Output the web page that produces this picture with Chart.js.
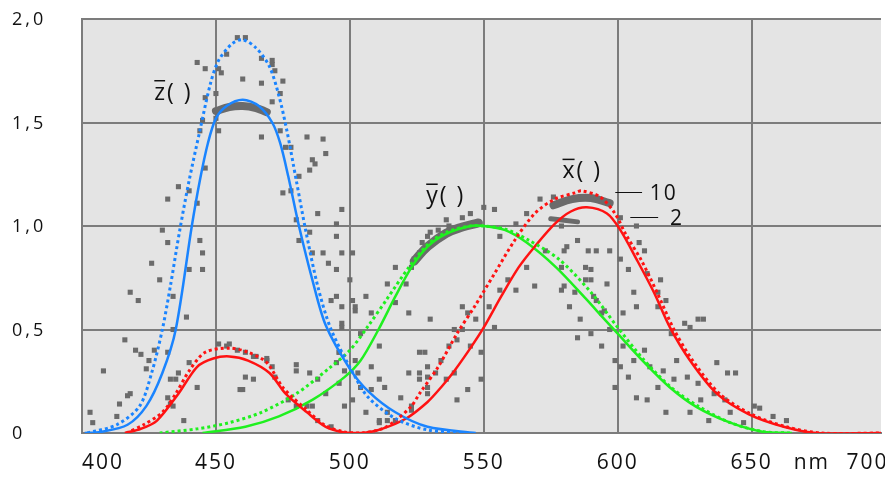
<!DOCTYPE html>
<html>
<head>
<meta charset="utf-8">
<script src="https://cdn.jsdelivr.net/npm/chart.js@4.4.1/dist/chart.umd.min.js"></script>
<style>
  html, body { margin: 0; padding: 0; background: #fff; }
  #wrap { width: 885px; height: 477px; }
</style>
</head>
<body>
<div id="wrap"><canvas id="cmf" width="885" height="477"></canvas></div>
<script>
// axis ticks
const xTicks = [400, 450, 500, 550, 600, 650];
const yTicks = [0, 0.5, 1, 1.5, 2];
const yLabels = ['0', '0,5', '1,0', '1,5', '2,0'];

// z-bar, 2 deg (solid) and 10 deg (dotted)
const z2Nm  = [401, 407, 417, 424, 430, 435, 441, 444, 447, 450, 454, 460, 466, 471, 474, 477, 481, 486, 491, 500, 507, 517, 529, 547];
const z2Val = [0, 0.005, 0.04, 0.13, 0.29, 0.5, 1.0, 1.22, 1.40, 1.52, 1.58, 1.61, 1.58, 1.50, 1.40, 1.24, 1.0, 0.74, 0.52, 0.31, 0.20, 0.10, 0.03, 0];
const z10Nm  = [402, 413, 421.5, 426, 430, 433, 436.5, 440, 444, 448, 451, 456, 460, 465, 470, 473.5, 476.5, 480, 483.5, 488, 493, 502, 507, 517, 529, 545];
const z10Val = [0, 0.04, 0.13, 0.29, 0.5, 0.71, 0.98, 1.22, 1.46, 1.69, 1.80, 1.88, 1.90, 1.86, 1.77, 1.63, 1.46, 1.22, 0.98, 0.71, 0.5, 0.27, 0.17, 0.07, 0.015, 0];

// y-bar
const y2Nm  = [445, 461, 473.5, 486, 498, 504, 510.7, 517, 523, 529, 535.6, 545, 550, 558, 566, 577, 588, 595, 600, 610, 619.5, 629.5, 642, 654.5, 665];
const y2Val = [0, 0.03, 0.08, 0.16, 0.27, 0.35, 0.50, 0.66, 0.80, 0.90, 0.96, 1.0, 1.0, 0.98, 0.92, 0.80, 0.65, 0.55, 0.48, 0.34, 0.22, 0.125, 0.05, 0.005, 0];
const y10Nm  = [429, 443, 455, 467, 480, 492, 500, 507, 514, 522, 529, 536, 545, 550, 558, 567, 578, 590, 600, 610, 620, 630, 642, 655, 665];
const y10Val = [0, 0.02, 0.05, 0.10, 0.19, 0.31, 0.40, 0.52, 0.65, 0.80, 0.91, 0.97, 1.0, 1.0, 0.985, 0.93, 0.84, 0.68, 0.51, 0.35, 0.22, 0.13, 0.05, 0.005, 0];

// x-bar
const x2Nm  = [416, 422, 428, 436, 443, 449, 455, 462, 470, 476, 484, 491, 498, 505, 512, 521, 529, 534, 539, 545, 550, 556.5, 563, 569, 576.5, 582.5, 588.5, 596, 601, 607, 613.5, 619.5, 627, 637, 649, 662, 674, 699];
const x2Val = [0, 0.02, 0.06, 0.19, 0.32, 0.36, 0.37, 0.35, 0.29, 0.19, 0.10, 0.03, 0.003, 0, 0.02, 0.07, 0.15, 0.22, 0.30, 0.41, 0.51, 0.66, 0.80, 0.90, 1.01, 1.07, 1.09, 1.06, 0.98, 0.84, 0.68, 0.51, 0.35, 0.19, 0.09, 0.03, 0, 0];
const x10Nm  = [416.5, 423, 430, 435, 440, 446, 455, 462, 469, 475, 484, 491, 498, 504, 512, 517, 523, 526, 533, 540, 547, 554, 561.5, 569, 576.5, 584, 586.5, 593.5, 599, 603, 609, 615, 621, 628, 638, 650, 663, 676, 699];
const x10Val = [0, 0.04, 0.10, 0.19, 0.30, 0.39, 0.41, 0.39, 0.34, 0.22, 0.11, 0.035, 0.005, 0, 0.02, 0.06, 0.13, 0.19, 0.32, 0.48, 0.62, 0.77, 0.93, 1.06, 1.13, 1.16, 1.17, 1.14, 1.06, 0.96, 0.83, 0.67, 0.50, 0.35, 0.19, 0.09, 0.03, 0, 0];

// grey speckle in the scan
const dotNm = [
  430, 432, 444, 445, 426, 418, 421, 429, 440, 445, 434, 439, 416, 420, 427, 425, 432, 408, 414, 418,
  404, 403, 435, 433, 443, 438, 422, 424, 434, 417, 413, 410, 426, 432, 436, 440, 443, 446, 443, 446,
  451, 452, 454, 458, 461, 467, 471, 471, 472, 475, 474, 471, 467, 460, 450, 446, 451, 450, 445, 444,
  451, 467, 474, 476, 478, 484, 490, 491, 486, 487, 485, 481, 478, 475, 480, 488, 495,
  481, 485, 486, 490, 492, 495, 497, 493, 497, 501, 502, 497, 496, 495, 498, 503, 504, 496, 501, 506,
  511, 514, 517, 480, 485, 488, 486, 491, 498, 508, 513, 523, 526, 529, 536, 539, 540, 544, 545, 542,
  530, 522, 517, 514, 523, 526, 529, 533, 537,
  451, 454, 458, 461, 465, 469, 471, 472, 461, 464, 460, 480, 477, 480, 484, 488, 493,
  455, 464, 469, 459, 440, 436, 433, 432, 434,
  497, 495, 501, 500, 495, 502, 506, 508, 497, 504, 511, 502, 508, 496, 511, 517, 521, 524, 527, 530,
  536, 542, 545, 550, 554, 556, 562, 566, 571, 576, 528, 526, 529, 522, 526, 529, 519, 523, 514, 511,
  542, 544, 547, 552, 554, 556, 559, 562, 566, 569, 573, 579, 581, 588, 590, 584, 586, 591, 594, 585,
  579, 549, 549, 539, 540, 537, 534, 532, 529,
  579, 585, 580, 589, 592, 597, 590, 588, 596, 580, 582, 592, 595, 601, 604, 608, 607, 610, 611, 616,
  615, 606, 607, 602, 615, 618, 630, 625, 627, 632, 620, 610, 602, 606, 601, 612, 617, 622, 615, 621,
  626, 630, 637, 641, 644, 636, 640, 631, 627, 634, 642, 651, 653, 658, 663, 647, 607, 611, 618, 604,
  599, 590, 597, 594, 599, 601
];
const dotVal = [
  0.98, 0.92, 0.93, 0.87, 0.82, 0.68, 0.64, 0.74, 0.79, 0.79, 0.66, 0.56, 0.45, 0.40, 0.40, 0.35, 0.39, 0.30, 0.14, 0.19,
  0.05, 0.10, 0.26, 0.14, 0.22, 0.06, 0.38, 0.31, 0.50, 0.18, 0.08, -0.02, -0.02, 1.13, 1.19, 1.17, 1.11, 1.28, 1.79, 1.76,
  1.76, 1.74, 1.83, 1.91, 1.91, 1.81, 1.80, 1.78, 1.75, 1.70, 1.64, 1.60, 1.69, 1.71, 1.64, 1.62, 1.56, 1.52, 1.51, 1.46,
  1.46, 1.43, 1.46, 1.38, 1.38, 1.43, 1.42, 1.35, 1.32, 1.30, 1.27, 1.24, 1.17, 1.16, 1.03, 1.06, 1.01,
  0.93, 0.97, 0.87, 0.87, 0.82, 0.79, 0.87, 0.64, 0.61, 0.64, 0.59, 0.53, 0.39, 0.34, 0.30, 0.29, 0.22, 0.24, 0.16, 0.10,
  0.06, 0.10, 0.06, 0.33, 0.29, 0.26, 0.13, 0.19, 0.13, 0.21, 0.22, 0.13, 0.29, 0.27, 0.26, 0.29, 0.16, 0.21, 0.42, 0.50,
  0.55, 0.58, 0.63, 0.72, 0.80, 0.87, 0.95, 0.98, 1.00,
  0.43, 0.42, 0.40, 0.39, 0.37, 0.35, 0.32, 0.27, 0.27, 0.26, 0.21, 0.30, 0.16, 0.13, 0.13, 0.06, 0.03,
  0.43, 0.37, 0.36, 0.21, 0.34, 0.29, 0.26, 0.17, 0.13,
  1.08, 0.95, 0.87, 0.74, 0.66, 0.61, 0.66, 0.58, 0.51, 0.48, 0.42, 0.35, 0.32, 0.39, 0.26, 0.80, 0.72, 0.84, 0.92, 0.97,
  1.03, 1.04, 1.06, 1.09, 1.08, 0.95, 1.01, 1.06, 1.13, 1.14, 0.39, 0.39, 0.32, 0.29, 0.26, 0.22, 0.17, 0.11, 0.06, 0.05,
  0.61, 0.58, 0.55, 0.61, 0.51, 0.69, 0.74, 0.69, 0.80, 0.71, 0.88, 0.80, 0.90, 0.80, 0.74, 0.68, 0.55, 0.66, 0.58, 0.46,
  0.69, 0.26, 0.39, 0.50, 0.45, 0.42, 0.35, 0.29, 0.19,
  1.00, 0.93, 0.88, 0.88, 0.88, 0.88, 0.79, 0.74, 0.72, 0.71, 0.61, 0.64, 0.59, 0.84, 0.79, 0.92, 1.00, 0.88, 0.77, 0.74,
  0.68, 0.68, 0.61, 0.58, 0.61, 0.64, 0.55, 0.53, 0.51, 0.55, 0.48, 0.40, 0.42, 0.35, 0.32, 0.32, 0.30, 0.35, 0.22, 0.26,
  0.27, 0.24, 0.34, 0.29, 0.29, 0.19, 0.16, 0.16, 0.10, 0.06, 0.10, 0.13, 0.12, 0.08, 0.06, 0.05, 0.17, 0.16, 0.10, 0.27,
  0.22, 0.48, 0.50, 0.42, 0.35, 1.04
];

// dense grey clusters near the three peaks
const bandZNm = [450, 455, 460, 465, 469];
const bandZVal = [1.555, 1.575, 1.58, 1.57, 1.55];
const bandYNm = [524, 529, 536, 542, 548];
const bandYVal = [0.83, 0.90, 0.965, 0.995, 1.015];
const bandXNm = [576, 583, 590, 597];
const bandXVal = [1.10, 1.13, 1.135, 1.11];
const bandX2Nm = [575, 585];
const bandX2Val = [1.035, 1.02];

const BLUE = '#1a84ff', RED = '#ff1212', GREEN = '#1ff01f', GREY = '#6b6b6b', GRID = '#7c7c7c';
const FONT = '"Open Sans", "DejaVu Sans", sans-serif';

const pts = (xs, ys) => xs.map((x, i) => ({ x, y: ys[i] }));

const curve = (xs, ys, color, dotted) => ({
  data: pts(xs, ys),
  borderColor: color,
  borderWidth: dotted ? 3 : 2.5,
  borderDash: dotted ? [3, 3] : [],
  tension: 0.3,
  pointRadius: 0,
  fill: false,
  order: dotted ? 1 : 2
});

const band = (xs, ys, w) => ({
  data: pts(xs, ys),
  borderColor: GREY,
  borderWidth: w,
  borderCapStyle: 'round',
  tension: 0.4,
  pointRadius: 0,
  order: 9
});

// grey plotting area
const plotBg = {
  id: 'plotBg',
  beforeDraw(chart) {
    const { ctx, chartArea: a } = chart;
    ctx.save();
    ctx.fillStyle = '#e4e4e4';
    ctx.fillRect(a.left, a.top, a.right - a.left, a.bottom - a.top);
    ctx.restore();
  }
};

// tick labels, curve names and the 10/2 key
const texts = {
  id: 'texts',
  afterDraw(chart) {
    const { ctx, scales: { x, y } } = chart;
    ctx.save();
    ctx.fillStyle = '#111';
    ctx.strokeStyle = '#111';
    ctx.textBaseline = 'alphabetic';

    ctx.font = '18px ' + FONT;
    ctx.letterSpacing = '3px';
    ctx.textAlign = 'left';
    yTicks.forEach((v, i) => ctx.fillText(yLabels[i], 12, y.getPixelForValue(v) + 6));

    ctx.font = '21px ' + FONT;
    ctx.letterSpacing = '2px';
    const base = 469;
    xTicks.forEach((v, i) => {
      if (i === 0) { ctx.textAlign = 'left'; ctx.fillText(String(v), x.left, base); }
      else { ctx.textAlign = 'center'; ctx.fillText(String(v), x.getPixelForValue(v), base); }
    });
    ctx.textAlign = 'center';
    ctx.fillText('nm', x.getPixelForValue(672.5), base);
    ctx.fillText('700', x.getPixelForValue(700) - 18, base);

    // curve names with overbar
    ctx.font = '23px ' + FONT;
    ctx.letterSpacing = '2px';
    ctx.textAlign = 'left';
    ctx.lineWidth = 1.5;
    [['z', 427, 1.61], ['y', 528.5, 1.11], ['x', 579.4, 1.23]].forEach(([ch, nm, v]) => {
      const px = x.getPixelForValue(nm), py = y.getPixelForValue(v);
      ctx.fillText(ch + '( )', px, py);
      const w = ctx.measureText(ch).width - 2;
      ctx.beginPath();
      ctx.moveTo(px, py - 19);
      ctx.lineTo(px + w, py - 19);
      ctx.stroke();
    });

    // observer key
    ctx.font = '21px ' + FONT;
    ctx.lineWidth = 1;
    [['10', 599.1, 609.1, 612, 1.164], ['2', 604.7, 615.1, 619.5, 1.043]].forEach(([t, a, b, tx, v]) => {
      const py = Math.round(y.getPixelForValue(v)) + 0.5;
      ctx.beginPath();
      ctx.moveTo(x.getPixelForValue(a), py);
      ctx.lineTo(x.getPixelForValue(b), py);
      ctx.stroke();
      ctx.fillText(t, x.getPixelForValue(tx), py + 7);
    });
    ctx.restore();
  }
};

new Chart(document.getElementById('cmf'), {
  type: 'line',
  data: {
    datasets: [
      curve(z10Nm, z10Val, BLUE, true),
      curve(z2Nm, z2Val, BLUE, false),
      curve(x10Nm, x10Val, RED, true),
      curve(x2Nm, x2Val, RED, false),
      curve(y10Nm, y10Val, GREEN, true),
      curve(y2Nm, y2Val, GREEN, false),
      band(bandZNm, bandZVal, 8),
      band(bandYNm, bandYVal, 9),
      band(bandXNm, bandXVal, 8),
      band(bandX2Nm, bandX2Val, 5),
      {
        data: pts(dotNm, dotVal),
        showLine: false,
        pointStyle: 'rect',
        pointRadius: 3.6,
        pointBackgroundColor: GREY,
        pointBorderColor: GREY,
        pointBorderWidth: 0,
        order: 10
      }
    ]
  },
  options: {
    responsive: false,
    animation: false,
    devicePixelRatio: 1,
    layout: { padding: { left: 82, top: 19, right: 0, bottom: 44 } },
    plugins: { legend: { display: false }, tooltip: { enabled: false } },
    scales: {
      x: {
        type: 'linear', min: 400, max: 698.3,
        afterBuildTicks: s => { s.ticks = xTicks.map(v => ({ value: v })); },
        ticks: { display: false },
        grid: { color: GRID, lineWidth: 2, drawTicks: false },
        border: { color: GRID, width: 2 }
      },
      y: {
        type: 'linear', min: 0, max: 2,
        afterBuildTicks: s => { s.ticks = yTicks.map(v => ({ value: v })); },
        ticks: { display: false },
        grid: { color: GRID, lineWidth: 2, drawTicks: false },
        border: { color: GRID, width: 2 }
      }
    }
  },
  plugins: [plotBg, texts]
});
</script>
</body>
</html>
